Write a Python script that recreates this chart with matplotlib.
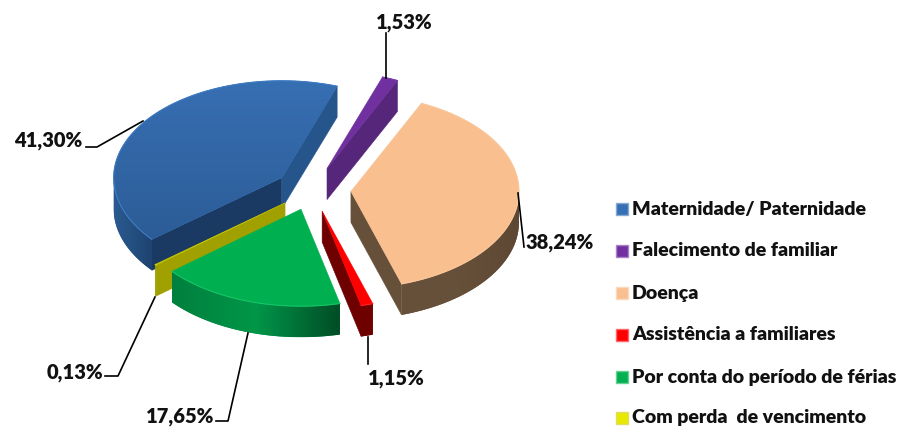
import numpy as np
import matplotlib
matplotlib.use('Agg')
import matplotlib.pyplot as plt
from matplotlib.colors import to_rgb, LinearSegmentedColormap
from matplotlib.patches import Polygon, Rectangle

# data
names = ['Maternidade/ Paternidade', 'Falecimento de familiar', 'Doença',
         'Assistência a familiares', 'Por conta do período de férias', 'Com perda  de vencimento']
values = [41.30, 1.53, 38.24, 1.15, 17.65, 0.13]

# look of the pie
top_colors = ['#3670b4', '#7030a0', '#f9bf8f', '#ff0000', '#00b050', '#c8c800']
rim_colors = ['#3f7cc2', '#7a38aa', '#fac79c', '#ff2020', '#14c466', '#d0d010']
cut_colors = ['#1b3a63', '#55267a', '#66503a', '#6e0000', '#00512a', '#a0a000']
wall_stops = [['#2a5a90', '#244f80', '#1d4270'],
              ['#55267a', '#55267a', '#55267a'],
              ['#66503a', '#66503a', '#5e4833'],
              ['#6e0000', '#6e0000', '#6e0000'],
              ['#00803e', '#009648', '#004d26'],
              ['#a0a000', '#a0a000', '#a0a000']]
explode = [37, 40, 39, 38, 35, 35]
start_angle = 230.6
cx, cy = 312, 190
a, b, depth = 168, 97, 31

# leader lines and label spots, in picture pixels
leaders = [[(86, 147), (97, 147), (143, 121)], [(386, 33), (386, 78)], [(518, 193), (524, 247)],
           [(368, 337), (368, 364)], [(216, 421), (228, 421), (248, 333)], [(105, 376), (118, 376), (155, 297)]]
label_pos = [(48, 141), (404, 22), (560, 243), (396, 379), (180, 416), (75, 372)]
legend_y = [209, 251, 293, 335, 377, 418]

plt.rcParams['font.family'] = ['Lato', 'DejaVu Sans']

fig = plt.figure(figsize=(9.09, 4.30), dpi=100)
ax = fig.add_axes([0, 0, 1, 1])
ax.set_xlim(0, 909)
ax.set_ylim(430, 0)
ax.axis('off')


def pt(c, ang):
    r = np.radians(ang)
    return np.array([c[0] + a * np.sin(r), c[1] - b * np.cos(r)])


def mix(c1, c2, t):
    return tuple((1 - t) * np.array(to_rgb(c1)) + t * np.array(to_rgb(c2)))


angles = start_angle + np.concatenate([[0], np.cumsum(values)]) * 3.6
down = np.array([0, depth])


def draw_slice(i):
    a0, a1 = angles[i], angles[i + 1]
    mid = (a0 + a1) / 2
    r = np.radians(mid)
    c = np.array([cx + explode[i] * np.sin(r), cy - explode[i] * np.cos(r) * b / a])
    m = pt(c, mid) - c

    # flat cut faces, only the ones turned to the viewer
    for ang in (a0, a1):
        e = pt(c, ang)
        d = e - c
        if d[0] * (d[0] * m[1] - d[1] * m[0]) < 0:
            col = cut_colors[i]
            if i == 0 and ang == a1:
                col = '#26558c'
            ax.add_patch(Polygon([c, e, e + down, c + down], fc=col, ec=col, lw=0.4))

    # outer wall on the front half, one clipped gradient
    s = np.linspace(a0, a1, 200)
    s = s[np.cos(np.radians(s)) <= 0]
    if len(s) > 1:
        arc = np.array([pt(c, v) for v in s])
        wall = Polygon(np.vstack([arc, arc[::-1] + down]), fc=wall_stops[i][1], ec='none')
        ax.add_patch(wall)
        cmap = LinearSegmentedColormap.from_list('wall', wall_stops[i])
        im = ax.imshow(np.linspace(0, 1, 200).reshape(1, -1), cmap=cmap, aspect='auto',
                       extent=[arc[:, 0].min(), arc[:, 0].max(), arc[:, 1].max() + depth, arc[:, 1].min()],
                       zorder=wall.get_zorder())
        im.set_clip_path(wall)

    # top face
    arc = np.array([pt(c, v) for v in np.linspace(a0, a1, 80)])
    top = Polygon(np.vstack([c, arc]), fc=top_colors[i], ec=top_colors[i], lw=0.4)
    ax.add_patch(top)
    if i == 0:
        cmap = LinearSegmentedColormap.from_list('blue', ['#376fb3', '#295890'])
        im = ax.imshow(np.linspace(0, 1, 100).reshape(-1, 1), cmap=cmap, aspect='auto',
                       extent=[c[0] - a, c[0] + a, c[1] + b, c[1] - b], zorder=top.get_zorder())
        im.set_clip_path(top)
    ax.plot(arc[:, 0], arc[:, 1], color=rim_colors[i], lw=0.8, zorder=2)


for i in [0, 1, 2, 5, 4, 3]:
    draw_slice(i)
ax.set_xlim(0, 909)
ax.set_ylim(430, 0)

# leader lines and labels
for i in range(len(values)):
    xs, ys = zip(*leaders[i])
    ax.plot(xs, ys, color='black', lw=1.2, zorder=3)
    ax.text(label_pos[i][0], label_pos[i][1], f'{values[i]:.2f}%'.replace('.', ','),
            ha='center', va='center', fontsize=14.5, fontweight='heavy', color='#111111', zorder=4)

# legend
for i in range(len(names)):
    ax.add_patch(Rectangle((616, legend_y[i] - 6), 12, 12, fc=top_colors[i] if i != 5 else '#e8e800',
                           ec=mix(top_colors[i], '#ffffff', 0.4), lw=1, zorder=3))
    ax.text(632, legend_y[i], names[i], ha='left', va='center', fontsize=14,
            fontweight='heavy', color='#111111', zorder=4)

fig.savefig('out.png', dpi=100)
